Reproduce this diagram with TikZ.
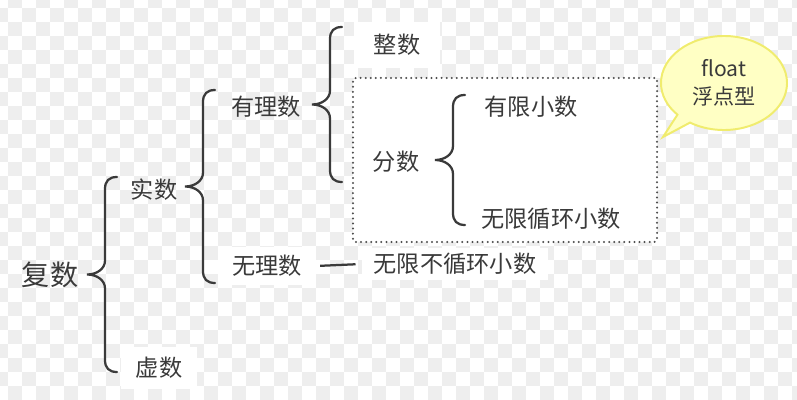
\documentclass[tikz,border=0pt]{standalone}
\usepackage{fontspec}
\setmainfont{Noto Sans CJK SC}
\usetikzlibrary{calc,shapes.geometric,shapes.callouts}
\definecolor{ink}{HTML}{3A3A3A}
\definecolor{checker}{HTML}{EEEEEE}
\definecolor{notefill}{HTML}{FFFFC4}
\definecolor{noteedge}{HTML}{F0EC6E}
\tikzset{
	word/.style={
		% The text:
		text=ink,font=\fontsize{16.5}{20}\selectfont,
		% The size:
		inner sep=0pt,
	}}
\tikzset{
	plate/.style={
		word,
		% The white plate behind the text:
		fill=white,inner xsep=0.35cm,inner ysep=0.2cm,
	}}
\tikzset{
	bracket/.style={
		% The line:
		line width=1.6pt,draw=ink,line cap=round,
	}}
\tikzset{
	group/.style={
		% The shape:
		rectangle,rounded corners=2pt,
		% The border:
		draw=ink!90,line width=1.6pt,line cap=round,
		dash pattern=on 0pt off 3.6pt,
		% The filling:
		fill=white,
	}}
% a curly brace opening to the right, from the lower end #1 to the upper end #2
\newcommand{\numbrace}[2]{
	\draw[bracket] (#1) .. controls +(-8,0) and +(0,8) .. ++(-12,-12)
		-- ($(#1)!0.5!(#2)+(-12,14)$)
		.. controls +(0,-9) and +(9,0) .. ($(#1)!0.5!(#2)+(-30,0)$)
		.. controls +(9,0) and +(0,9) .. ($(#1)!0.5!(#2)+(-12,-14)$)
		-- ($(#2)+(-12,12)$)
		.. controls +(0,-8) and +(-8,0) .. (#2);
}

\begin{document}
\begin{tikzpicture}[x=0.025cm,y=-0.025cm]
	\useasboundingbox (0,0) rectangle (797,400);
	% checkered background
	\begin{scope}
		\clip (0,0) rectangle (797,400);
		\foreach \j in {0,...,29}{
			\foreach \i in {0,...,28}{
				\fill[checker] ({-6+28*\i+14*mod(\j+1,2)},{-6+14*\j}) rectangle ++(14,14);
			}
		}
	\end{scope}
	\node[group,minimum width=7.6cm,minimum height=4.1cm] (fracbox) at (505,160) {};
	\node[word,font=\fontsize{20}{24}\selectfont] (fushu) at (50,275) {复数};
	\node[word] (shishu) at (154,190) {实数};
	\node[plate,inner xsep=0.375cm,inner ysep=0.25cm] (xushu) at (159,368) {虚数};
	\node[word] (youli) at (266,107) {有理数};
	\node[plate] (wuli) at (267,266) {无理数};
	\node[plate,inner xsep=0.5cm,inner ysep=0.3cm] (zhengshu) at (397,45) {整数};
	\node[word] (fenshu) at (396,162) {分数};
	\node[word] (youxian) at (531,107) {有限小数};
	\node[word] (xunhuan) at (551,219) {无限循环小数};
	\node[plate,inner xsep=0.3cm,inner ysep=0.12cm] (buxunhuan) at (455,264) {无限不循环小数};
	\node[ellipse callout,callout absolute pointer={(663,137)},
		minimum width=3.15cm,minimum height=2.35cm,inner sep=0pt,
		fill=notefill,draw=noteedge,line width=1.4pt,
		text=ink,align=center,font=\fontsize{15}{20}\selectfont] (floatnote) at (724,83) {float\\浮点型};
	% the braces
	\coordinate (b1a) at (117,372); \coordinate (b1b) at (117,177);
	\coordinate (b2a) at (215,283); \coordinate (b2b) at (215,90);
	\coordinate (b3a) at (342,182); \coordinate (b3b) at (342,27);
	\coordinate (b4a) at (465,225); \coordinate (b4b) at (465,95);
	\numbrace{b1a}{b1b}
	\numbrace{b2a}{b2b}
	\numbrace{b3a}{b3b}
	\numbrace{b4a}{b4b}
	\draw[bracket,line cap=butt,shorten <=0.1cm,shorten >=0.15cm] (wuli.east) -- (buxunhuan.west);
\end{tikzpicture}
\end{document}
